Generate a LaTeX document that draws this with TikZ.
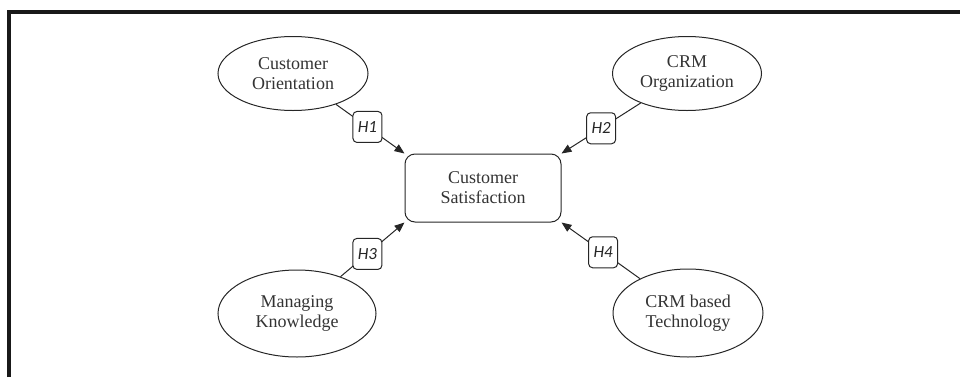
\documentclass[tikz,border=0pt]{standalone}
\usepackage{fontspec}
\setmainfont{Liberation Serif}
\newfontfamily\hypfont{Carlito}
\usetikzlibrary{arrows.meta, positioning, shapes.geometric}
\tikzstyle{model}=[x=0.5pt, y=0.5pt, >={Triangle[length=5pt,width=4pt]}, line width=0.5pt, on grid,
  draw=black!85, text=black!80, font=\fontsize{9}{10}\selectfont]
\tikzstyle{construct}=[draw=black!85, ellipse, inner sep=0pt, align=center, minimum height=37pt]
\tikzstyle{outcome}=[draw=black!85, rounded corners=5pt, align=center, minimum width=78pt, minimum height=34pt]
\tikzstyle{hyp}=[draw=black!85, fill=white, rounded corners=2pt, inner sep=0pt, minimum width=14.5pt,
  minimum height=15.5pt, font=\hypfont\itshape\fontsize{8.5}{9}\selectfont]

\begin{document}
\begin{tikzpicture}[model]
  \useasboundingbox (0,0) rectangle (960,377);
  \draw[line width=2pt, black!90] (9,0) -- (9,365) -- (960,365);
  \node[outcome] (cs) at (483,189) {Customer\\Satisfaction};
  \node[construct,minimum width=75pt] (co) [above left=57.25pt and 95pt of cs] {Customer\\Orientation};
  \node[construct,minimum width=74.5pt] (org) [above right=57.25pt and 102pt of cs] {CRM\\Organization};
  \node[construct,minimum width=79pt,minimum height=43.5pt] (mk) [below left=62.75pt and 93pt of cs] {Managing\\Knowledge};
  \node[construct,minimum width=75pt,minimum height=44pt] (tech) [below right=62.5pt and 102.5pt of cs] {CRM based\\Technology};
  \path[->, black!85] (co) edge node[hyp, pos=.46] {H1} (cs.north west);
  \path[->, black!85] (org) edge node[hyp, pos=.5] {H2} (cs.north east);
  \path[->, black!85] (mk) edge node[hyp, pos=.42] {H3} (cs.south west);
  \path[->, black!85] (tech) edge node[hyp, pos=.47] {H4} (cs.south east);
\end{tikzpicture}
\end{document}
